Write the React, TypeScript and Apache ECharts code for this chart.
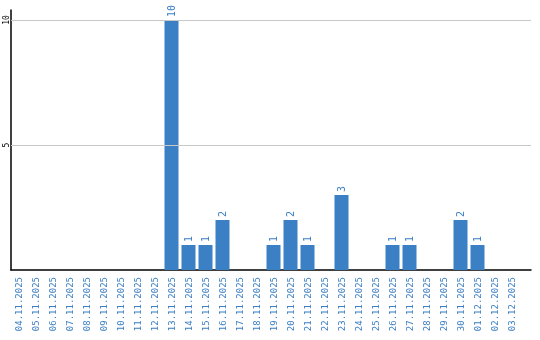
import React, { useEffect, useRef } from "react";
import * as echarts from "echarts";

const dates = [
  "04.11.2025", "05.11.2025", "06.11.2025", "07.11.2025", "08.11.2025",
  "09.11.2025", "10.11.2025", "11.11.2025", "12.11.2025", "13.11.2025",
  "14.11.2025", "15.11.2025", "16.11.2025", "17.11.2025", "18.11.2025",
  "19.11.2025", "20.11.2025", "21.11.2025", "22.11.2025", "23.11.2025",
  "24.11.2025", "25.11.2025", "26.11.2025", "27.11.2025", "28.11.2025",
  "29.11.2025", "30.11.2025", "01.12.2025", "02.12.2025", "03.12.2025",
];
const counts = [0, 0, 0, 0, 0, 0, 0, 0, 0, 10, 1, 1, 2, 0, 0, 1, 2, 1, 0, 3, 0, 0, 1, 1, 0, 0, 2, 1, 0, 0];
const gridValues = [5, 10];
const yTickLabels = [5, 10];

const BLUE = "#3b7fc4";
const MONO = "DejaVu Sans Mono";
const GRID_LEFT = 11;

export default function App() {
  const ref = useRef<HTMLDivElement>(null);
  useEffect(() => {
    if (!ref.current) return;
    const chart = echarts.init(ref.current, null, { renderer: "svg" });
    chart.setOption({
      animation: false,
      grid: [
        { left: GRID_LEFT, right: 9, top: 10, bottom: 70 },
        { left: 10, right: 20, top: 10, bottom: 70 },
      ],
      xAxis: [
        {
          type: "value",
          gridIndex: 0,
          min: 0,
          max: 1,
          axisLine: { show: true, onZero: false, lineStyle: { color: "#000", width: 1.5 } },
          axisTick: { show: false },
          axisLabel: { show: false },
          splitLine: { show: false },
        },
        {
          type: "category",
          gridIndex: 1,
          data: dates,
          boundaryGap: true,
          axisLine: { show: false },
          axisTick: { show: false },
          splitLine: { show: false },
          axisLabel: {
            interval: 0,
            rotate: 90,
            align: "right",
            verticalAlign: "middle",
            color: BLUE,
            fontFamily: MONO,
            fontSize: 9,
            margin: 7,
          },
        },
      ],
      yAxis: [
        {
          type: "value",
          gridIndex: 0,
          min: 0,
          max: 10.4,
          axisLine: { show: true, onZero: false, lineStyle: { color: "#000", width: 1.5 } },
          axisTick: { show: false },
          splitLine: { show: false },
          axisLabel: { show: false },
        },
        {
          type: "value",
          gridIndex: 1,
          min: 0,
          max: 10.4,
          axisLine: { show: false },
          axisTick: { show: false },
          splitLine: { show: false },
          axisLabel: {
            inside: true,
            rotate: 90,
            margin: -8,
            color: "#000",
            fontFamily: MONO,
            fontSize: 8,
            customValues: yTickLabels,
            formatter: (v: number) => String(v),
          },
        },
      ],
      series: [
        {
          type: "line",
          xAxisIndex: 0,
          yAxisIndex: 0,
          data: [],
          silent: true,
          markLine: {
            silent: true,
            symbol: ["none", "none"],
            label: { show: false },
            lineStyle: { color: "#c8c8c8", type: "solid", width: 1 },
            data: gridValues.map((v) => ({ yAxis: v })),
          },
        },
        {
          type: "bar",
          xAxisIndex: 1,
          yAxisIndex: 1,
          barWidth: 14,
          data: counts,
          itemStyle: { color: BLUE },
          label: {
            show: true,
            position: "top",
            rotate: 90,
            align: "left",
            verticalAlign: "middle",
            distance: 3,
            color: BLUE,
            fontFamily: MONO,
            fontSize: 10,
            formatter: (p: any) => (p.value ? String(p.value) : ""),
          },
        },
      ],
    });
    return () => chart.dispose();
  }, []);
  return (
    <div
      ref={ref}
      style={{ position: "fixed", left: 0, top: 0, width: 540, height: 340 }}
    />
  );
}
